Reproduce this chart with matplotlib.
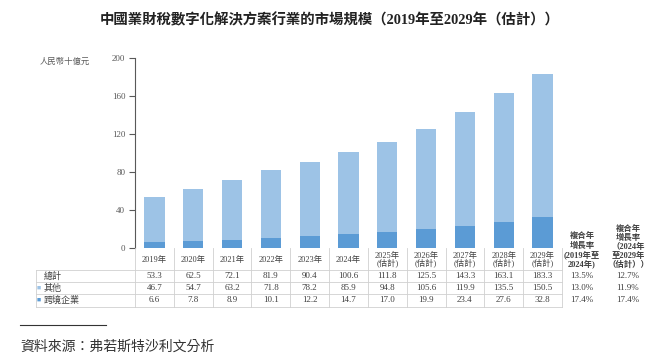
import numpy as np
import matplotlib
matplotlib.use('Agg')
from matplotlib import pyplot as plt
from matplotlib.transforms import blended_transform_factory

plt.rcParams['font.family'] = ['Liberation Serif', 'Noto Sans CJK TC', 'DejaVu Sans']

# datos
years = ['2019年', '2020年', '2021年', '2022年', '2023年', '2024年',
         '2025年\n(估計)', '2026年\n(估計)', '2027年\n(估計)', '2028年\n(估計)', '2029年\n(估計)']
total = [53.3, 62.5, 72.1, 81.9, 90.4, 100.6, 111.8, 125.5, 143.3, 163.1, 183.3]
other = [46.7, 54.7, 63.2, 71.8, 78.2, 85.9, 94.8, 105.6, 119.9, 135.5, 150.5]
cross = [6.6, 7.8, 8.9, 10.1, 12.2, 14.7, 17.0, 19.9, 23.4, 27.6, 32.8]
row_names = ['總計', '其他', '跨境企業']
cagr_1924 = ['13.5%', '13.0%', '17.4%']
cagr_2429 = ['12.7%', '11.9%', '17.4%']
cagr_head_1 = '複合年\n增長率\n(2019年至\n2024年)'
cagr_head_2 = '複合年\n增長率\n（2024年\n至2029年\n（估計））'

c_light = '#9DC3E6'
c_dark = '#5B9BD5'
c_text = '#404040'
c_grid = '#D0D0D0'

W, H = 660, 362
fig = plt.figure(figsize=(6.6, 3.62), dpi=100)

def fy(py):
    return 1 - py / H

def fx(px):
    return px / W

ax = fig.add_axes([fx(135), fy(248), fx(562) - fx(135), fy(58) - fy(248)])
x = np.arange(len(years))
ax.bar(x, cross, width=0.52, color=c_dark)
ax.bar(x, other, width=0.52, bottom=cross, color=c_light)
ax.set_xlim(-0.5, len(years) - 0.5)
ax.set_ylim(0, 200)
ax.set_yticks([0, 40, 80, 120, 160, 200])
ax.tick_params(axis='y', labelsize=6.5, colors='#595959', length=4, width=0.8, pad=3)
ax.set_xticks([])
for s in ['top', 'right', 'bottom']:
    ax.spines[s].set_visible(False)
ax.spines['left'].set_color('#595959')
ax.spines['left'].set_linewidth(0.8)

fig.text(fx(40), fy(62), '人民幣十億元', fontsize=6, color='#595959', va='center', ha='left')

# titulo
fig.text(0.5, fy(20), '中國業財稅數字化解決方案行業的市場規模（2019年至2029年（估計））',
         fontsize=10.4, fontweight='bold', color='#222222', ha='center', va='center')

# tabla
tr = blended_transform_factory(ax.transData, fig.transFigure)
left_px, x0_px, x1_px = 36, 135, 562
row_y = [276, 288, 300]
lines_y = [270, 282, 294, 307]

for yy in lines_y:
    fig.add_artist(plt.Line2D([fx(left_px), fx(x1_px)], [fy(yy), fy(yy)], color=c_grid, lw=0.6))
for i in range(len(years) + 1):
    xb = i - 0.5
    fig.add_artist(plt.Line2D([xb, xb], [fy(248), fy(307)], transform=tr, color=c_grid, lw=0.6))
fig.add_artist(plt.Line2D([fx(left_px), fx(left_px)], [fy(270), fy(307)], color=c_grid, lw=0.6))

for i, yl in enumerate(years):
    fig.text(i, fy(260), yl, transform=tr, fontsize=6, color=c_text,
             ha='center', va='center', linespacing=0.95)

rows = [total, other, cross]
for r, vals in enumerate(rows):
    for i, v in enumerate(vals):
        fig.text(i, fy(row_y[r]), '%.1f' % v, transform=tr, fontsize=6.5, color=c_text,
                 ha='center', va='center')

fig.text(fx(44), fy(row_y[0]), row_names[0], fontsize=6.5, color=c_text, va='center')
fig.text(fx(37), fy(row_y[1]), '■', fontsize=5, color=c_light, va='center')
fig.text(fx(44), fy(row_y[1]), row_names[1], fontsize=6.5, color=c_text, va='center')
fig.text(fx(37), fy(row_y[2]), '■', fontsize=5, color=c_dark, va='center')
fig.text(fx(44), fy(row_y[2]), row_names[2], fontsize=6.5, color=c_text, va='center')

# tasas de crecimiento
for r in range(3):
    fig.text(fx(582), fy(row_y[r]), cagr_1924[r], fontsize=6.5, color=c_text, ha='center', va='center')
    fig.text(fx(628), fy(row_y[r]), cagr_2429[r], fontsize=6.5, color=c_text, ha='center', va='center')
fig.text(fx(582), fy(251), cagr_head_1, fontsize=6, fontweight='bold', color=c_text,
         ha='center', va='center', linespacing=1.1)
fig.text(fx(628), fy(247), cagr_head_2, fontsize=6, fontweight='bold', color=c_text,
         ha='center', va='center', linespacing=1.1)

# fuente
fig.add_artist(plt.Line2D([fx(20), fx(106)], [fy(325), fy(325)], color='#333333', lw=0.8))
fig.text(fx(20), fy(347), '資料來源：弗若斯特沙利文分析', fontsize=10, style='italic',
         color='#333333', va='center', ha='left')

fig.savefig('out.png', dpi=100)
